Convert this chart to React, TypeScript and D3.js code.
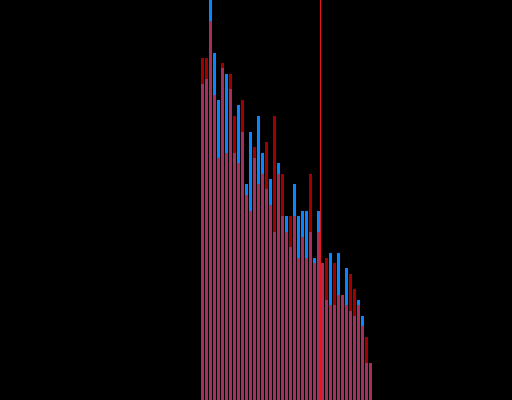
import React, { useEffect, useRef } from "react";
import * as d3 from "d3";

const WIDTH = 512;
const HEIGHT = 400;

// Histogram counts per bin for the two samples
const blueCounts = [
  60, 61, 76, 66, 57, 63, 62, 59, 47, 56, 51, 41, 51, 46, 54, 47, 40, 42, 32, 45, 35,
  35, 29, 41, 35, 36, 36, 32, 27, 36, 26, 19, 28, 18, 28, 20, 25, 17, 16, 19, 16, 7, 7,
];
const redCounts = [
  65, 65, 72, 58, 46, 64, 47, 62, 54, 45, 57, 39, 36, 48, 41, 43, 49, 37, 54, 43, 43,
  32, 35, 35, 27, 31, 27, 43, 26, 32, 26, 27, 18, 26, 20, 20, 18, 24, 21, 18, 14, 12, 7,
];
// Bin position of the reference marker
const markerBin = [29.75];

export default function App() {
  const ref = useRef<SVGSVGElement>(null);

  useEffect(() => {
    const svg = d3.select(ref.current);
    svg.selectAll("*").remove();

    const n = blueCounts.length;
    const x = d3.scaleLinear().domain([0, n]).range([201, 373]);
    const y = d3.scaleLinear().domain([0, 76]).range([HEIGHT, 0]);

    svg
      .append("rect")
      .attr("width", WIDTH)
      .attr("height", HEIGHT)
      .attr("fill", "#000");

    const drawBars = (data: number[], color: string, opacity: number) => {
      svg
        .append("g")
        .selectAll("rect")
        .data(data)
        .join("rect")
        .attr("x", (_, i) => x(i))
        .attr("width", (_, i) => x(i + 1) - x(i) - 1)
        .attr("y", (d) => y(d))
        .attr("height", (d) => y(0) - y(d))
        .attr("fill", color)
        .attr("fill-opacity", opacity)
        .attr("shape-rendering", "crispEdges");
    };

    drawBars(blueCounts, "#0a84ff", 1);
    drawBars(redCounts, "#ff0000", 0.63);

    svg
      .append("g")
      .selectAll("line")
      .data(markerBin)
      .join("line")
      .attr("x1", (d) => x(d) + 0.5)
      .attr("x2", (d) => x(d) + 0.5)
      .attr("y1", 0)
      .attr("y2", HEIGHT)
      .attr("stroke", "#e8141a")
      .attr("stroke-width", 1)
      .attr("shape-rendering", "crispEdges");
  }, []);

  return (
    <div style={{ position: "fixed", left: 0, top: 0, width: WIDTH, height: HEIGHT, background: "#000" }}>
      <svg ref={ref} width={WIDTH} height={HEIGHT} style={{ display: "block" }} />
    </div>
  );
}
